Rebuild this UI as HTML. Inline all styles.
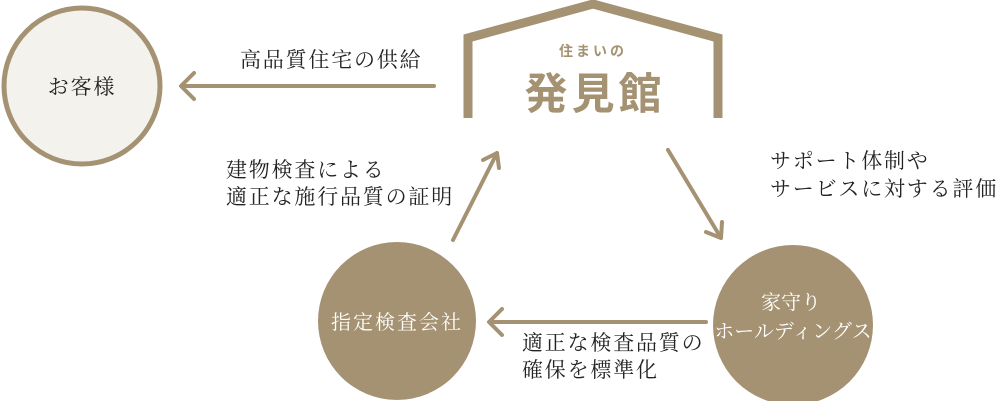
<!DOCTYPE html>
<html><head><meta charset="utf-8"><style>
html,body{margin:0;padding:0;background:#fff;}
svg{display:block;}
.t{font-family:"Liberation Serif","Noto Serif CJK SC",serif;fill:#222;font-size:21px;letter-spacing:1.8px;}
.w{font-family:"Liberation Serif","Noto Serif CJK SC",serif;fill:#fff;font-size:20px;}
</style></head><body>
<svg width="1000" height="401" viewBox="0 0 1000 401">
<g stroke="#a59272" fill="none" stroke-width="4" stroke-linecap="round" stroke-linejoin="round">
<circle cx="82" cy="86" r="78" fill="#f3f2ec" stroke-width="5"/>
<line x1="182" y1="86" x2="434" y2="86"/>
<polyline points="194,73 181,86 194,99"/>
<line x1="453" y1="240" x2="497" y2="153"/>
<polyline points="483,160 497,153 499,168"/>
<line x1="668" y1="150" x2="721" y2="238"/>
<polyline points="706,232 721,238 722,222"/>
<line x1="490" y1="322" x2="706" y2="322"/>
<polyline points="502,309 489,322 502,335"/>
<polyline points="468,118 468,38 593,4 718,38 718,118" stroke-width="9" stroke-linecap="butt" stroke-linejoin="miter"/>
</g>
<circle cx="397" cy="321" r="79" fill="#a59272"/>
<circle cx="793" cy="325" r="80" fill="#a59272"/>
<text x="82" y="94" text-anchor="middle" class="t">お客様</text>
<text x="240" y="67" class="t">高品質住宅の供給</text>
<text x="226" y="177" class="t">建物検査による</text>
<text x="226" y="204" class="t">適正な施行品質の証明</text>
<text x="770" y="168" class="t">サポート体制や</text>
<text x="770" y="196" class="t">サービスに対する評価</text>
<text x="522" y="350" class="t">適正な検査品質の</text>
<text x="522" y="377" class="t">確保を標準化</text>
<text x="397" y="329" text-anchor="middle" class="w" letter-spacing="2">指定検査会社</text>
<text x="791" y="309" text-anchor="middle" class="w">家守り</text>
<text x="793" y="338" text-anchor="middle" class="w" font-size="18">ホールディングス</text>
<text x="593" y="56" text-anchor="middle" font-family="'Noto Sans CJK JP',sans-serif" font-weight="bold" font-size="14" fill="#a59272" letter-spacing="3">住まいの</text>
<text x="595" y="109" text-anchor="middle" font-family="'Noto Sans CJK JP',sans-serif" font-weight="bold" font-size="43" fill="#a59272" letter-spacing="4">発見館</text>
</svg>
</body></html>
